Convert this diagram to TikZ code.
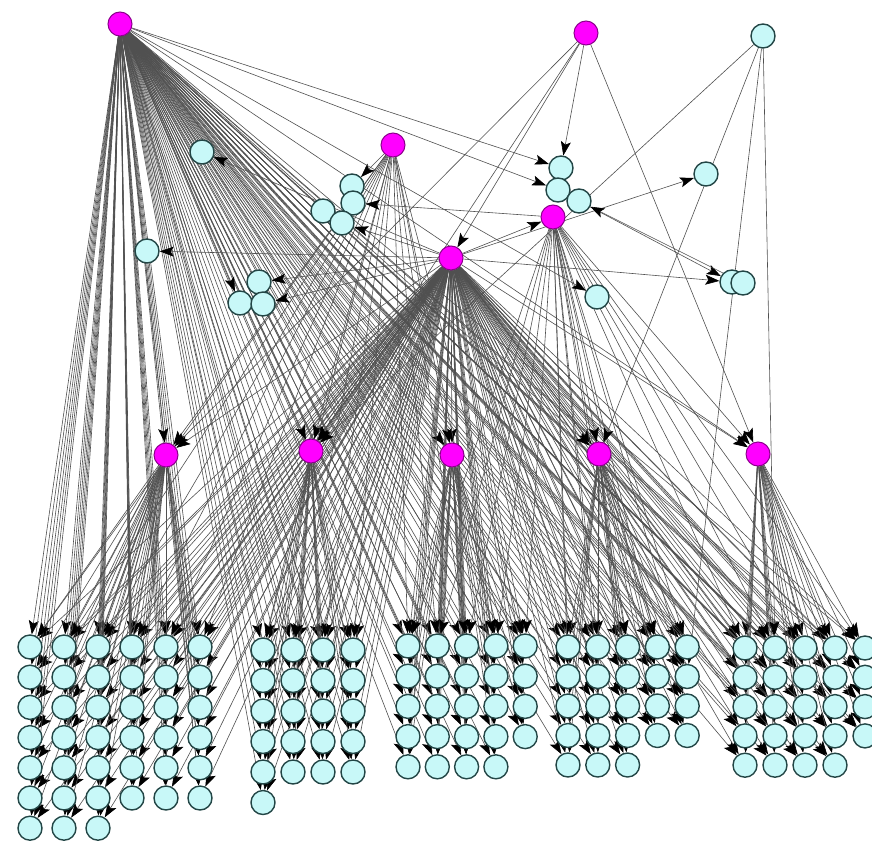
\documentclass[tikz,border=0pt]{standalone}
\usetikzlibrary{arrows.meta}
\pgfdeclarelayer{bg}
\pgfsetlayers{bg,main}
\definecolor{cellfill}{RGB}{200,248,248}
\definecolor{celldraw}{RGB}{35,70,70}
\definecolor{hubfill}{RGB}{255,0,255}
\definecolor{hubdraw}{RGB}{140,0,140}
\definecolor{edgec}{RGB}{80,80,80}
\tikzset{
 cell/.style={circle, fill=cellfill, draw=celldraw, line width=1.4pt, minimum size=24pt, inner sep=0pt},
 hub/.style={circle, fill=hubfill, draw=hubdraw, line width=1pt, minimum size=24pt, inner sep=0pt},
 edge/.style={draw=edgec, line width=0.6pt, -{Stealth[length=14pt,width=10pt,inset=3pt,color=black]}}
}
\begin{document}
\begin{tikzpicture}[x=1pt,y=-1pt]
\useasboundingbox (0,0) rectangle (872,840);
% hubs
\node[hub] (H0) at (120,24) {};
\node[hub] (M2) at (586,33) {};
\node[hub] (M1) at (393,145) {};
\node[hub] (C) at (451,258) {};
\node[hub] (m1) at (166,455) {};
\node[hub] (m2) at (311,451) {};
\node[hub] (m3) at (452,455) {};
\node[hub] (m4) at (599,454) {};
\node[hub] (m5) at (758,454) {};
% upper cyan nodes
\node[cell] (T) at (763,36) {};
\node[cell] (t1) at (202,152) {};
\node[cell] (t2) at (147,251) {};
\node[cell] (k1) at (352,186) {};
\node[cell] (k2) at (353,203) {};
\node[cell] (k3) at (323,211) {};
\node[cell] (k4) at (342,223) {};
\node[cell] (j1) at (259,282) {};
\node[cell] (j2) at (240,303) {};
\node[cell] (j3) at (263,304) {};
\node[cell] (n1) at (561,168) {};
\node[cell] (n2) at (558,190) {};
\node[cell] (n3) at (579,201) {};
\node[hub] (M3) at (553,217) {};
\node[cell] (p1) at (597,297) {};
\node[cell] (q1) at (706,174) {};
\node[cell] (r1) at (732,282) {};
\node[cell] (r2) at (743,283) {};
% bottom groups
\foreach \k in {1,...,39}{
  \pgfmathtruncatemacro\rr{(\k-1)/6}
  \pgfmathtruncatemacro\cc{\k-1-6*\rr}
  \node[cell] (a\k) at ({30+34*\cc},{647+30.2*\rr}) {};
}
\foreach \k in {1,...,21}{
  \pgfmathtruncatemacro\rr{(\k-1)/4}
  \pgfmathtruncatemacro\cc{\k-1-4*\rr}
  \node[cell] (b\k) at ({263+30*\cc},{650+30.5*\rr}) {};
}
\foreach \k in {1,...,24}{
  \pgfmathtruncatemacro\rr{(\k-1)/5}
  \pgfmathtruncatemacro\cc{\k-1-5*\rr}
  \node[cell] (c\k) at ({408+29.3*\cc},{646+30.2*\rr}) {};
}
\foreach \k in {1,...,23}{
  \pgfmathtruncatemacro\rr{(\k-1)/5}
  \pgfmathtruncatemacro\cc{\k-1-5*\rr}
  \node[cell] (d\k) at ({568+29.8*\cc},{647+29.5*\rr}) {};
}
\foreach \k in {1,...,24}{
  \pgfmathtruncatemacro\rr{(\k-1)/5}
  \pgfmathtruncatemacro\cc{\k-1-5*\rr}
  \node[cell] (e\k) at ({745+30*\cc},{648+29.3*\rr}) {};
}
% edges
\begin{pgfonlayer}{bg}
\fill[white] (0,0) rectangle (872,840);
\foreach \k in {1,...,39}{\draw[edge] (m1) -- (a\k); \draw[edge] (H0) -- (a\k); \draw[edge] (C) -- (a\k);}
\foreach \k in {1,...,21}{\draw[edge] (m2) -- (b\k); \draw[edge] (H0) -- (b\k); \draw[edge] (C) -- (b\k);}
\foreach \k in {1,...,24}{\draw[edge] (m3) -- (c\k); \draw[edge] (H0) -- (c\k); \draw[edge] (C) -- (c\k);}
\foreach \k in {1,...,23}{\draw[edge] (m4) -- (d\k); \draw[edge] (H0) -- (d\k); \draw[edge] (C) -- (d\k);}
\foreach \k in {1,...,24}{\draw[edge] (m5) -- (e\k); \draw[edge] (H0) -- (e\k); \draw[edge] (C) -- (e\k);}
\foreach \h in {m1,m2,m3,m4,m5}{\draw[edge] (H0) -- (\h); \draw[edge] (C) -- (\h);}
\foreach \h in {m1,m2,m3}{\draw[edge] (M1) -- (\h);}
\foreach \k in {1,...,6}{\draw[edge] (M1) -- (a\k);}
\foreach \k in {1,...,4}{\draw[edge] (M1) -- (b\k);}
\foreach \k in {1,...,5}{\draw[edge] (M1) -- (c\k);}
\foreach \k in {1,...,10}{\draw[edge] (M3) -- (d\k);}
\foreach \k in {1,...,5}{\draw[edge] (M3) -- (c\k); \draw[edge] (M3) -- (e\k);}
\draw[edge] (M3) -- (m4);
\draw[edge] (M3) -- (m5);
\draw[edge] (C) -- (t1);
\draw[edge] (C) -- (t2);
\draw[edge] (C) -- (j1);
\draw[edge] (C) -- (j3);
\draw[edge] (H0) -- (j2);
\draw[edge] (M3) -- (k2);
\draw[edge] (C) -- (k4);
\draw[edge] (M1) -- (k1);
\draw[edge] (H0) -- (n1);
\draw[edge] (H0) -- (n2);
\draw[edge] (C) -- (M3);
\draw[edge] (C) -- (q1);
\draw[edge] (C) -- (r1);
\draw[edge] (n3) -- (r1);
\draw[edge] (H0) -- (p1);
\draw[edge] (r2) -- (n3);
\draw[edge] (M2) -- (n1);
\draw[edge] (M2) -- (C);
\draw[edge] (M2) -- (m1);
\draw[edge] (M2) -- (m2);
\draw[edge] (M2) -- (m5);
\draw[edge] (T) -- (m2);
\draw[edge] (T) -- (m4);
\draw[edge] (T) -- (d10);
\draw[edge] (T) -- (e2);
\end{pgfonlayer}
\end{tikzpicture}
\end{document}
